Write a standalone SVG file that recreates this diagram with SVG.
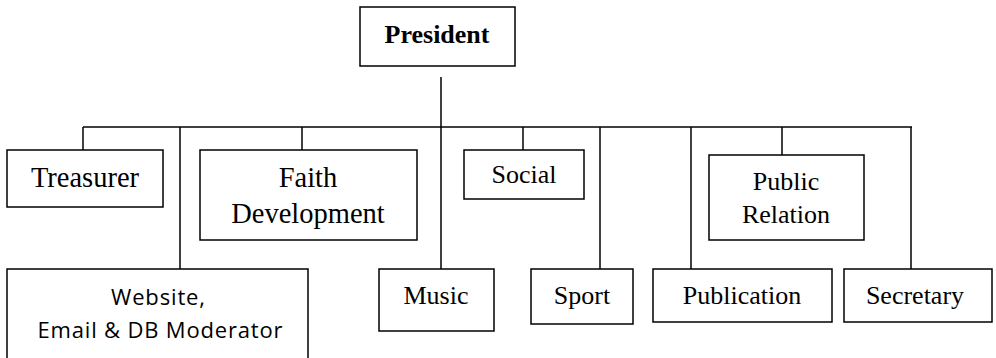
<svg xmlns="http://www.w3.org/2000/svg" width="996" height="358" viewBox="0 0 996 358">
<style>
rect{fill:#fff;stroke:#000;stroke-width:1.5}
rect.bg{stroke:none}
line{stroke:#000;stroke-width:1.5}
text{font-family:"Liberation Serif","Times New Roman",serif;font-size:26px;fill:#000;text-anchor:middle}
.b{font-weight:bold}
.l{font-size:28.5px}
.s{font-family:"Open Sans","Liberation Sans",sans-serif;font-size:22px}
</style>
<rect class="bg" width="996" height="358"/>
<g id="connectors">
<line x1="441" y1="77" x2="441" y2="269"/>
<line x1="83" y1="127" x2="912" y2="127"/>
<line x1="83" y1="127" x2="83" y2="150"/>
<line x1="180" y1="127" x2="180" y2="269"/>
<line x1="302" y1="127" x2="302" y2="150"/>
<line x1="523" y1="127" x2="523" y2="150"/>
<line x1="600" y1="127" x2="600" y2="269"/>
<line x1="691" y1="127" x2="691" y2="269"/>
<line x1="782" y1="127" x2="782" y2="155"/>
<line x1="911" y1="127" x2="911" y2="269"/>
</g>
<g id="president"><rect x="360" y="7" width="155" height="59"/><text class="b" x="437" y="43">President</text></g>
<g id="treasurer"><rect x="7" y="150" width="156" height="57"/><text class="l" x="85" y="187">Treasurer</text></g>
<g id="faith"><rect x="200" y="150" width="217" height="90"/><text class="l" x="308" y="187">Faith</text><text class="l" x="308" y="223">Development</text></g>
<g id="social"><rect x="464" y="150" width="120" height="49"/><text x="524" y="183">Social</text></g>
<g id="public-relation"><rect x="709" y="155" width="155" height="85"/><text x="786" y="190">Public</text><text x="786" y="223">Relation</text></g>
<g id="website"><rect x="7" y="269" width="301" height="95"/><text class="s" x="158" y="305" textLength="94" lengthAdjust="spacing">Website,</text><text class="s" x="160" y="338" textLength="245" lengthAdjust="spacing">Email &amp; DB Moderator</text></g>
<g id="music"><rect x="379" y="269" width="115" height="62"/><text x="436" y="304">Music</text></g>
<g id="sport"><rect x="531" y="269" width="102" height="55"/><text x="582" y="304">Sport</text></g>
<g id="publication"><rect x="653" y="269" width="179" height="53"/><text x="742" y="304">Publication</text></g>
<g id="secretary"><rect x="844" y="269" width="148" height="53"/><text x="915" y="304">Secretary</text></g>
</svg>
